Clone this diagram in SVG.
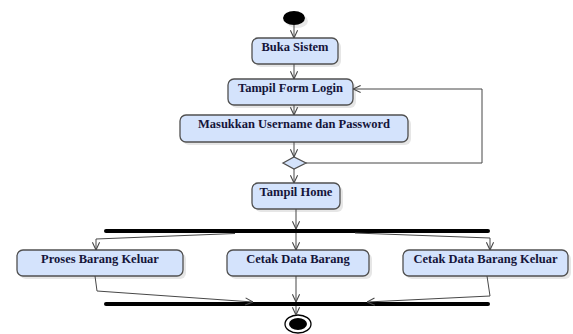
<svg xmlns="http://www.w3.org/2000/svg" width="573" height="334" viewBox="0 0 573 334">
<style>
.box{fill:#d4e3fc;stroke:#505050;stroke-width:1.3}
.sh{fill:#e6e6e6;stroke:none}
.t{font-family:'Liberation Serif',serif;font-weight:700;font-size:12.5px;fill:#15153a;text-anchor:middle}
.c{fill:none;stroke:#474747;stroke-width:1;marker-end:url(#a)}
.bar{fill:#000}
</style>
<defs>
<marker id="a" viewBox="0 0 10 10" refX="9.5" refY="5" markerWidth="9" markerHeight="9" markerUnits="userSpaceOnUse" orient="auto">
<path d="M1,1 L9.5,5 L1,9" fill="none" stroke="#474747" stroke-width="1.2"/>
</marker>
</defs>
<rect width="573" height="334" fill="#fff"/>
<g id="start"><ellipse cx="297" cy="21" rx="11" ry="7" fill="#e8e8e8"/><ellipse cx="294" cy="18" rx="11" ry="7" fill="#000"/></g>
<g id="n1"><rect class="sh" x="255" y="41" width="86" height="26" rx="6"/><rect class="box" x="252" y="38" width="86" height="26" rx="6"/><text class="t" x="295" y="51">Buka Sistem</text></g>
<g id="n2"><rect class="sh" x="231" y="82" width="125" height="26" rx="6"/><rect class="box" x="228" y="79" width="125" height="26" rx="6"/><text class="t" x="290.5" y="92">Tampil Form Login</text></g>
<g id="n3"><rect class="sh" x="183" y="118" width="228" height="27" rx="6"/><rect class="box" x="180" y="115" width="228" height="27" rx="6"/><text class="t" x="294" y="128">Masukkan Username dan Password</text></g>
<g id="d1"><path d="M283,163 L294,157 L306,163 L294,169 Z" class="box" stroke-width="1"/></g>
<g id="n4"><rect class="sh" x="255" y="186" width="88" height="26" rx="6"/><rect class="box" x="252" y="183" width="88" height="26" rx="6"/><text class="t" x="296" y="196">Tampil Home</text></g>
<g id="fork"><rect class="bar" x="104" y="229" width="386" height="4" rx="2"/></g>
<g id="n5"><rect class="sh" x="20" y="253" width="166" height="26" rx="6"/><rect class="box" x="17" y="250" width="166" height="26" rx="6"/><text class="t" x="100" y="263">Proses Barang Keluar</text></g>
<g id="n6"><rect class="sh" x="230" y="253" width="142" height="26" rx="6"/><rect class="box" x="227" y="250" width="142" height="26" rx="6"/><text class="t" x="298" y="263">Cetak Data Barang</text></g>
<g id="n7"><rect class="sh" x="406" y="253" width="165" height="26" rx="6"/><rect class="box" x="403" y="250" width="165" height="26" rx="6"/><text class="t" x="485.5" y="263">Cetak Data Barang Keluar</text></g>
<g id="join"><rect class="bar" x="104" y="302" width="386" height="4" rx="2"/></g>
<g id="end"><ellipse cx="298" cy="324" rx="13" ry="9" fill="#fff" stroke="#000" stroke-width="1.3"/><ellipse cx="298" cy="324" rx="9" ry="6" fill="#000"/></g>
<g id="connectors">
<path class="c" d="M294,25 V38"/>
<path class="c" d="M294,64 V79"/>
<path class="c" d="M294,105 V115"/>
<path class="c" d="M294,142 V157"/>
<path class="c" d="M294,169 V183"/>
<path class="c" d="M306,163 H482 V89 H353"/>
<path class="c" d="M296,209 V229"/>
<path class="c" d="M296,233 V250"/>
<path class="c" d="M235,233.5 L96,239 V250"/>
<path class="c" d="M355,233 L490,238 V250"/>
<path class="c" d="M296,276 V302"/>
<path class="c" d="M95,276 L97,291 L253,302"/>
<path class="c" d="M487,276 L490,296 L367,302"/>
<path class="c" d="M296,306 V315"/>
</g>
</svg>
